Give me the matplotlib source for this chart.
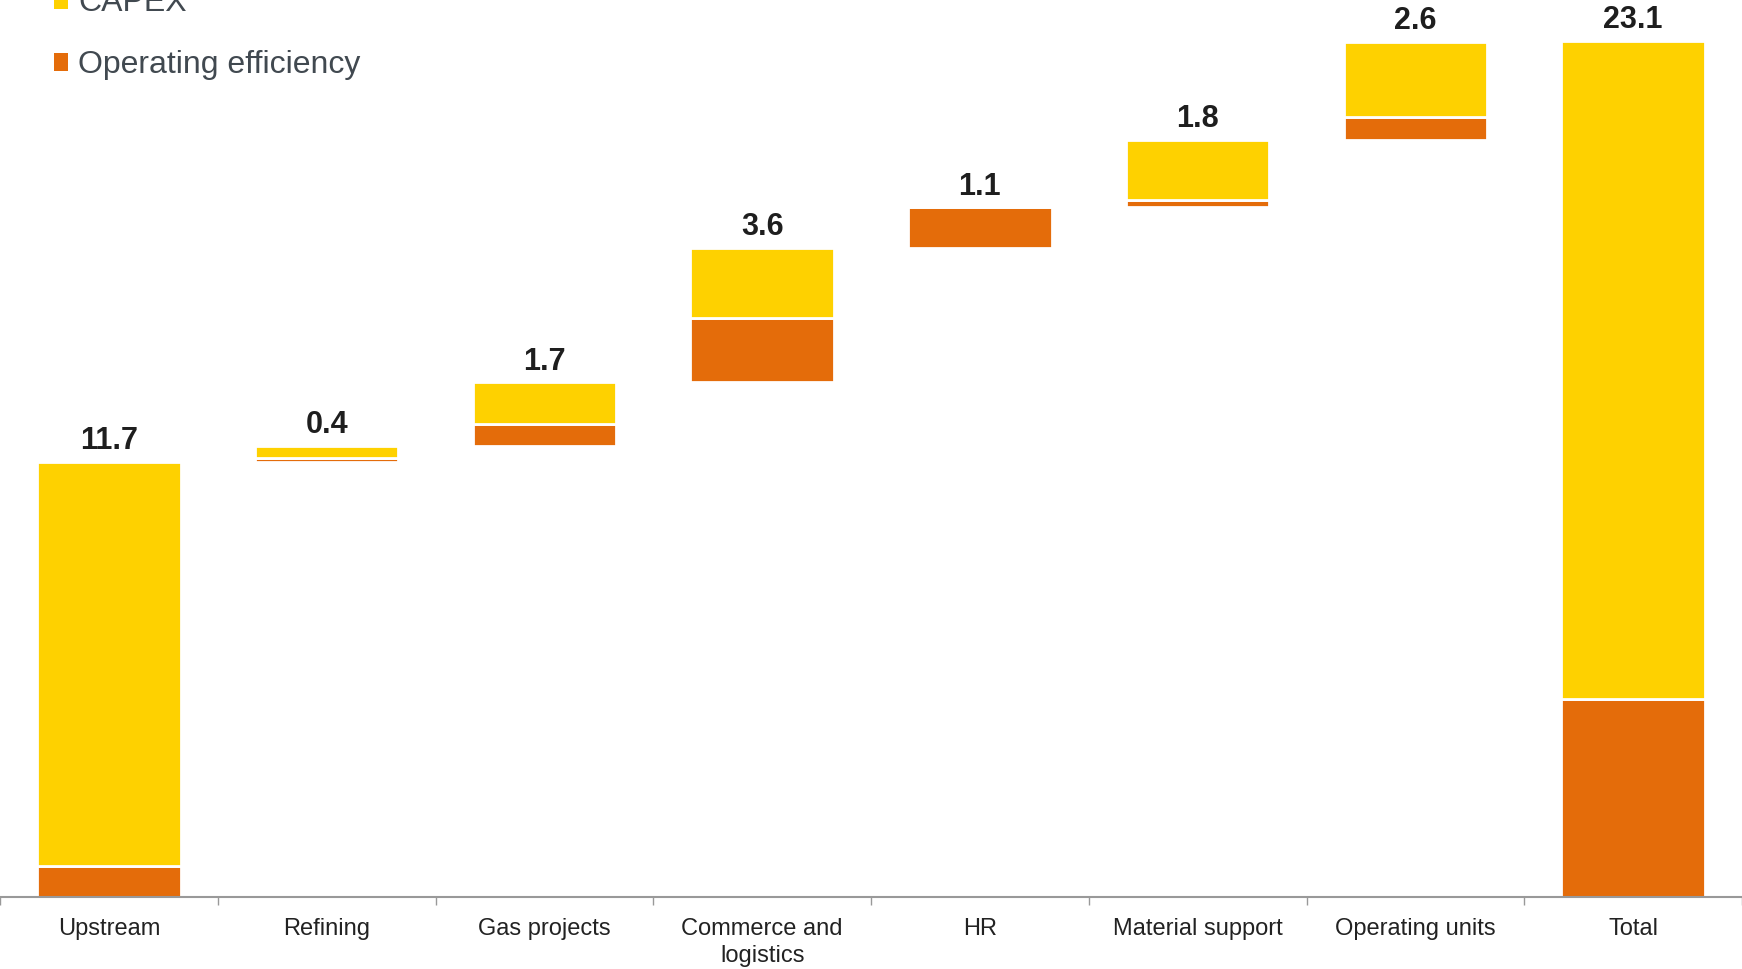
import numpy as np
import matplotlib.pyplot as plt
from matplotlib.patches import Patch

plt.rcParams['font.family'] = ['Liberation Sans', 'DejaVu Sans']

# savings by business area, split into CAPEX and operating efficiency
categories = ['Upstream', 'Refining', 'Gas projects', 'Commerce and\nlogistics',
              'HR', 'Material support', 'Operating units']
capex = [10.90, 0.33, 1.12, 1.88, 0.00, 1.62, 2.04]
opex = [0.84, 0.10, 0.60, 1.74, 1.10, 0.20, 0.60]
total_capex = 17.75
total_opex = 5.35

yellow = '#FED100'
orange = '#E46C0A'

steps = np.array(capex) + np.array(opex)
bottoms = np.concatenate([[0], np.cumsum(steps)[:-1]])

labels = categories + ['Total']
bar_capex = capex + [total_capex]
bar_opex = list(opex) + [total_opex]
bar_bottom = list(bottoms) + [0]
x = np.arange(len(labels))

fig = plt.figure(figsize=(17.42, 9.69), dpi=100)
ax = fig.add_axes([0, 72 / 969, 1, 897 / 969])

w = 0.66
ax.bar(x, bar_opex, w, bottom=bar_bottom, color=orange, edgecolor='white', linewidth=2)
ax.bar(x, bar_capex, w, bottom=np.array(bar_bottom) + np.array(bar_opex),
       color=yellow, edgecolor='white', linewidth=2)

# value on top of every bar
tops = np.array(bar_bottom) + np.array(bar_opex) + np.array(bar_capex)
for xi, b, t in zip(x, bar_bottom, tops):
    ax.annotate(f'{t - b:.1f}', (xi, t), xytext=(0, 9), textcoords='offset points',
                ha='center', va='baseline', fontsize=22, fontweight='bold', color='#1e1e1e')

ax.set_xlim(-0.5, len(labels) - 0.5)
ax.set_ylim(0, 24.2)
ax.set_xticks(x)
ax.set_xticklabels(labels, fontsize=17, color='#222222', linespacing=1.3)
ax.set_xticks(np.arange(-0.5, len(labels), 1), minor=True)
ax.tick_params(axis='x', which='major', length=0, pad=15)
ax.tick_params(axis='x', which='minor', length=6, width=1, color='#999999')
ax.set_yticks([])
for s in ['top', 'right', 'left']:
    ax.spines[s].set_visible(False)
ax.spines['bottom'].set_color('#999999')
ax.spines['bottom'].set_linewidth(1.5)

handles = [Patch(facecolor=yellow, label='CAPEX'),
           Patch(facecolor=orange, label='Operating efficiency')]
leg = ax.legend(handles=handles, loc='upper left', bbox_to_anchor=(0.031, 1.012),
                bbox_transform=fig.transFigure, frameon=False, fontsize=23,
                handlelength=0.45, handleheight=0.45, handletextpad=0.3,
                labelspacing=1.0, borderpad=0, borderaxespad=0)
for t in leg.get_texts():
    t.set_color('#414950')

fig.savefig('out.png', dpi=100)
